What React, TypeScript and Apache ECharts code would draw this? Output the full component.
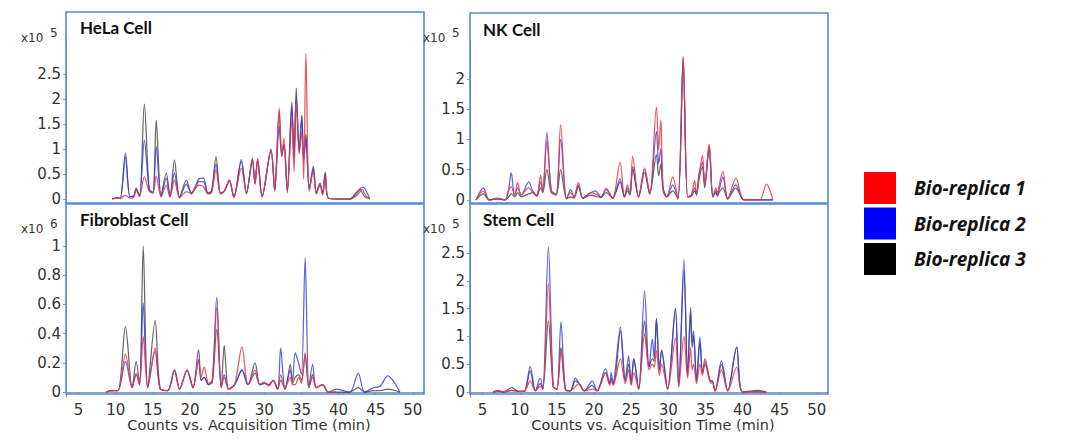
import React, { useEffect, useRef } from "react";
import * as echarts from "echarts";

const replicaNames = ["Bio-replica 1", "Bio-replica 2", "Bio-replica 3"];
const legendColors = ["#ff0000", "#0000ff", "#000000"];
const lineColors = ["rgba(232,58,72,0.85)", "rgba(58,58,222,0.8)", "rgba(45,45,45,0.72)"];
const panelTitles = ["HeLa Cell", "NK Cell", "Fibroblast Cell", "Stem Cell"];
const panelExponents = ["5", "5", "6", "5"];
const xTickValues = [5, 10, 15, 20, 25, 30, 35, 40, 45, 50];
const xAxisTitle = "Counts vs. Acquisition Time (min)";
const yTicksHela = [0, 0.5, 1, 1.5, 2, 2.5];
const yTicksNk = [0, 0.5, 1, 1.5, 2];
const yTicksFibro = [0, 0.2, 0.4, 0.6, 0.8, 1];
const yTicksStem = [0, 0.5, 1, 1.5, 2, 2.5];

// HeLa Cell (x10^5)
const helaTime = [9.5, 10.2, 10.6, 11.3, 11.9, 12.4, 12.75, 13.2, 13.85, 14.5, 15.0, 15.45, 16.1, 16.8, 17.3, 17.9, 18.6, 19.5, 20.2, 20.7, 21.2, 21.8, 22.4, 22.9, 23.5, 24.1, 24.6, 25.3, 25.9, 26.9, 27.6, 28.4, 28.75, 29.1, 29.7, 30.9, 31.4, 32.0, 32.35, 32.65, 33.1, 33.7, 34.0, 34.3, 34.7, 35.05, 35.3, 35.6, 36.05, 36.6, 37.0, 37.5, 37.85, 38.2, 38.7, 41.5, 42.3, 42.9, 43.2, 43.5, 44.2];
const helaRep1 = [0, 0.02, 0.01, 0.08, 0.02, 0.03, 0.18, 0.05, 0.45, 0.15, 0.12, 0.46, 0.04, 0.28, 0.04, 0.38, 0.02, 0.15, 0.1, 0.22, 0.28, 0.25, 0.1, 0.13, 0.58, 0.1, 0.15, 0.38, 0.03, 0.62, 0.1, 0.82, 0.3, 0.8, 0.04, 1.0, 0.15, 1.82, 0.85, 1.22, 0.12, 1.6, 0.55, 2.0, 0.9, 1.35, 0.4, 2.92, 0.15, 0.55, 0.1, 0.28, 0.08, 0.45, 0.01, 0, 0.05, 0.15, 0.2, 0.1, 0];
const helaRep2 = [0, 0.03, 0.01, 0.85, 0.05, 0.05, 0.2, 0.05, 1.18, 0.18, 0.12, 1.05, 0.05, 0.42, 0.05, 0.52, 0.03, 0.3, 0.12, 0.2, 0.35, 0.35, 0.12, 0.15, 0.7, 0.12, 0.15, 0.36, 0.04, 0.75, 0.12, 0.78, 0.3, 0.78, 0.05, 0.98, 0.17, 1.45, 0.85, 1.1, 0.15, 1.85, 0.8, 2.05, 0.95, 1.68, 0.75, 1.2, 0.2, 0.6, 0.12, 0.3, 0.1, 0.5, 0.01, 0, 0.08, 0.2, 0.24, 0.22, 0.01];
const helaRep3 = [0, 0.03, 0.01, 0.92, 0.05, 0.06, 0.22, 0.06, 1.9, 0.2, 0.14, 1.58, 0.06, 0.52, 0.05, 0.78, 0.03, 0.38, 0.12, 0.25, 0.4, 0.42, 0.12, 0.16, 0.85, 0.12, 0.16, 0.38, 0.04, 0.79, 0.12, 0.8, 0.32, 0.8, 0.05, 0.98, 0.17, 1.75, 0.9, 1.1, 0.15, 1.95, 0.85, 2.22, 0.95, 1.65, 0.8, 1.3, 0.2, 0.66, 0.12, 0.32, 0.1, 0.54, 0.01, 0, 0.12, 0.2, 0.12, 0.05, 0];

// NK Cell (x10^5)
const nkTime = [4.1, 5.1, 5.9, 7.0, 8.0, 8.5, 8.85, 9.3, 9.7, 10.2, 11.2, 11.75, 12.3, 12.8, 13.1, 13.65, 14.25, 14.9, 15.5, 16.3, 16.85, 17.3, 17.9, 18.5, 19.55, 20.2, 20.9, 21.65, 22.5, 23.5, 24.1, 24.5, 24.85, 25.2, 26.0, 26.8, 27.5, 28.4, 28.7, 29.0, 29.3, 29.8, 30.6, 31.3, 32.0, 32.6, 33.1, 33.55, 33.8, 34.15, 34.6, 34.9, 35.5, 36.0, 36.4, 36.6, 36.8, 37.35, 38.0, 39.1, 40.2, 42.3, 43.2, 44.1];
const nkRep1 = [0, 0.15, 0, 0.03, 0, 0.15, 0.22, 0.08, 0.29, 0.08, 0.2, 0.13, 0.08, 0.41, 0.15, 0.98, 0.15, 0.1, 1.24, 0.02, 0.12, 0.05, 0.29, 0.03, 0.12, 0.1, 0.05, 0.19, 0.03, 0.62, 0.05, 0.25, 0.1, 0.72, 0.05, 0.53, 0.1, 1.53, 0.83, 1.32, 0.2, 0.05, 0.38, 0.02, 2.38, 0.05, 0.08, 0.32, 0.1, 0.4, 0.74, 0.25, 0.92, 0.05, 0.2, 0.1, 0.22, 0.47, 0.02, 0.36, 0, 0, 0.26, 0];
const nkRep2 = [0, 0.2, 0, 0.02, 0, 0.18, 0.45, 0.08, 0.2, 0.08, 0.3, 0.15, 0.08, 0.3, 0.15, 1.11, 0.15, 0.1, 1.0, 0.02, 0.17, 0.05, 0.25, 0.03, 0.12, 0.15, 0.05, 0.17, 0.03, 0.35, 0.05, 0.2, 0.1, 0.55, 0.05, 0.5, 0.1, 1.13, 0.6, 0.85, 0.2, 0.05, 0.25, 0.02, 2.3, 0.05, 0.08, 0.2, 0.1, 0.44, 0.62, 0.25, 0.85, 0.05, 0.15, 0.08, 0.15, 0.38, 0.02, 0.25, 0, 0, 0, 0];
const nkRep3 = [0, 0.1, 0, 0.02, 0, 0.05, 0.1, 0.05, 0.12, 0.05, 0.1, 0.12, 0.06, 0.2, 0.12, 0.5, 0.12, 0.08, 0.5, 0.02, 0.05, 0.03, 0.22, 0.03, 0.08, 0.06, 0.04, 0.12, 0.03, 0.3, 0.05, 0.15, 0.08, 0.5, 0.05, 0.45, 0.1, 0.75, 0.4, 0.6, 0.15, 0.05, 0.15, 0.02, 2.35, 0.05, 0.06, 0.15, 0.08, 0.35, 0.55, 0.2, 0.9, 0.05, 0.12, 0.06, 0.12, 0.2, 0.02, 0.2, 0, 0, 0, 0];

// Fibroblast Cell (x10^6)
const fibroTime = [8.7, 9.5, 10.3, 11.3, 12.2, 12.75, 13.2, 13.7, 14.3, 15.3, 16.0, 17.0, 17.9, 18.6, 19.6, 20.4, 21.15, 21.5, 21.9, 22.5, 23.0, 23.6, 24.2, 24.6, 25.2, 26.0, 27.0, 27.8, 28.75, 29.4, 30.0, 30.6, 31.2, 31.8, 32.2, 32.8, 33.5, 33.8, 34.15, 34.6, 35.0, 35.5, 36.0, 36.5, 37.0, 37.85, 38.6, 39.7, 41.5, 42.65, 43.5, 44.7, 45.6, 46.6, 48.25];
const fibroRep1 = [0, 0.01, 0.01, 0.26, 0.03, 0.13, 0.05, 0.38, 0.03, 0.3, 0.02, 0.01, 0.15, 0.02, 0.15, 0.03, 0.22, 0.1, 0.17, 0.06, 0.08, 0.58, 0.03, 0.1, 0.02, 0.05, 0.31, 0.05, 0.15, 0.05, 0.07, 0.04, 0.08, 0.02, 0.12, 0.03, 0.1, 0.05, 0.05, 0.1, 0.06, 0.27, 0.03, 0.1, 0.03, 0.05, 0, 0, null, null, null, null, null, null, null];
const fibroRep2 = [0, 0.01, 0.01, 0.21, 0.03, 0.12, 0.05, 0.61, 0.03, 0.28, 0.02, 0.01, 0.15, 0.02, 0.15, 0.03, 0.29, 0.08, 0.1, 0.05, 0.08, 0.65, 0.03, 0.12, 0.02, 0.05, 0.15, 0.05, 0.13, 0.05, 0.06, 0.05, 0.08, 0.02, 0.3, 0.02, 0.15, 0.08, 0.27, 0.2, 0.12, 0.92, 0.03, 0.19, 0.03, 0.05, 0, 0.02, 0, 0.13, 0, 0.03, 0.04, 0.11, 0];
const fibroRep3 = [0, 0.01, 0.01, 0.45, 0.03, 0.21, 0.05, 1.0, 0.03, 0.49, 0.02, 0.01, 0.15, 0.02, 0.15, 0.03, 0.22, 0.08, 0.1, 0.05, 0.07, 0.43, 0.03, 0.32, 0.02, 0.05, 0.15, 0.05, 0.2, 0.05, 0.06, 0.05, 0.08, 0.02, 0.08, 0.02, 0.19, 0.06, 0.1, 0.12, 0.08, 0.25, 0.03, 0.12, 0.03, 0.05, 0, 0, 0, 0.03, 0, 0.01, 0.01, 0.02, 0];

// Stem Cell (x10^5)
const stemTime = [6.4, 7.0, 7.8, 8.95, 9.8, 10.6, 11.4, 12.1, 12.75, 13.1, 13.85, 14.5, 15.0, 15.55, 16.2, 16.8, 17.5, 18.0, 18.7, 19.75, 20.4, 21.55, 22.1, 22.3, 22.6, 22.9, 23.55, 24.2, 24.65, 25.0, 25.35, 26.0, 26.8, 27.4, 27.85, 28.1, 28.4, 28.8, 29.1, 29.9, 30.95, 31.4, 32.1, 32.6, 33.0, 33.2, 33.4, 33.8, 34.25, 34.6, 34.95, 35.7, 35.9, 36.3, 37.15, 38.0, 39.2, 40.0, 42.1, 43.2];
const stemRep1 = [0, 0.02, 0, 0.03, 0.01, 0.01, 0.2, 0.02, 0.1, 0.05, 1.95, 0.1, 0.05, 0.75, 0.03, 0.02, 0.1, 0.15, 0.02, 0.05, 0.02, 0.35, 0.12, 0.2, 0.12, 0.25, 0.6, 0.15, 0.4, 0.12, 0.35, 0.05, 1.05, 0.4, 0.5, 0.45, 0.75, 0.3, 0.5, 0.05, 0.97, 0.1, 1.0, 0.25, 0.8, 0.4, 0.5, 0.15, 0.5, 0.3, 0.55, 0.15, 0.2, 0.02, 0.4, 0.02, 0.45, 0, 0, 0];
const stemRep2 = [0, 0.03, 0, 0.03, 0.01, 0.01, 0.46, 0.02, 0.25, 0.05, 2.61, 0.1, 0.05, 1.26, 0.03, 0.02, 0.25, 0.15, 0.02, 0.2, 0.02, 0.42, 0.15, 0.35, 0.15, 0.45, 1.17, 0.2, 0.65, 0.15, 0.6, 0.05, 1.82, 0.45, 0.95, 0.6, 1.32, 0.4, 0.75, 0.05, 1.5, 0.1, 2.39, 0.3, 1.45, 0.9, 1.1, 0.2, 0.99, 0.35, 0.6, 0.2, 0.2, 0.02, 0.56, 0.02, 0.81, 0, 0.01, 0];
const stemRep3 = [0, 0.01, 0, 0.08, 0.01, 0.01, 0.38, 0.02, 0.15, 0.05, 1.28, 0.1, 0.05, 0.8, 0.03, 0.02, 0.2, 0.15, 0.02, 0.12, 0.02, 0.35, 0.15, 0.25, 0.15, 0.3, 1.1, 0.2, 0.5, 0.15, 0.6, 0.05, 1.28, 0.45, 0.6, 0.55, 1.32, 0.4, 0.75, 0.05, 1.5, 0.1, 2.2, 0.3, 1.52, 0.8, 1.0, 0.2, 0.9, 0.35, 0.5, 0.2, 0.2, 0.02, 0.5, 0.02, 0.81, 0, 0.03, 0];

const panels = [
  { time: helaTime, reps: [helaRep1, helaRep2, helaRep3], yTicks: yTicksHela, yMin: -0.08, yMax: 3.2 },
  { time: nkTime, reps: [nkRep1, nkRep2, nkRep3], yTicks: yTicksNk, yMin: -0.05, yMax: 2.64 },
  { time: fibroTime, reps: [fibroRep1, fibroRep2, fibroRep3], yTicks: yTicksFibro, yMin: -0.034, yMax: 1.096 },
  { time: stemTime, reps: [stemRep1, stemRep2, stemRep3], yTicks: yTicksStem, yMin: -0.09, yMax: 2.88 },
];

const grids = [
  { left: 66, top: 39, width: 358, height: 164 },
  { left: 470, top: 40, width: 358, height: 163 },
  { left: 66, top: 232, width: 358, height: 165 },
  { left: 470, top: 232, width: 358, height: 165 },
];
const boxes = [
  { x: 66, y: 12, w: 358, h: 191 },
  { x: 470, y: 13, w: 358, h: 190 },
  { x: 66, y: 204, w: 358, h: 190 },
  { x: 470, y: 204, w: 358, h: 190 },
];
const titlePos = [
  { x: 80, y: 27 },
  { x: 483, y: 29 },
  { x: 80, y: 219 },
  { x: 483, y: 219 },
];
const expPos = [
  { x: 21, y: 38 },
  { x: 423, y: 38 },
  { x: 21, y: 229 },
  { x: 423, y: 229 },
];

const FONT = "'DejaVu Sans', Arial, sans-serif";
const TITLE_FONT = "Lato, 'Open Sans', sans-serif";
const LEGEND_FONT = "'Open Sans', Lato, sans-serif";

export default function App() {
  const ref = useRef<HTMLDivElement>(null);
  useEffect(() => {
    if (!ref.current) return;
    const chart = echarts.init(ref.current, undefined, { renderer: "svg" });

    const xAxis: any[] = [];
    const yAxis: any[] = [];
    const series: any[] = [];
    panels.forEach((p, i) => {
      const bottom = i >= 2;
      xAxis.push(
        bottom
          ? {
              type: "value",
              gridIndex: i,
              min: 3.3,
              max: 51.5,
              axisLine: { show: true, lineStyle: { color: "#9a9a9a", width: 1 } },
              axisTick: { show: true, length: 3, customValues: xTickValues, lineStyle: { color: "#9a9a9a" } },
              axisLabel: { customValues: xTickValues, fontSize: 15, color: "#333", margin: 5, fontFamily: FONT },
              splitLine: { show: false },
              name: xAxisTitle,
              nameLocation: "middle",
              nameGap: 23,
              nameTextStyle: { fontSize: 14.5, color: "#333", fontFamily: FONT, verticalAlign: "middle", padding: [0, 0, 0, 8] },
            }
          : { type: "value", gridIndex: i, min: 3.3, max: 51.5, show: false }
      );
      yAxis.push({
        type: "value",
        gridIndex: i,
        min: p.yMin,
        max: p.yMax,
        axisLine: { show: true, lineStyle: { color: "#9a9a9a", width: 1 } },
        axisTick: { show: true, length: 3, customValues: p.yTicks, lineStyle: { color: "#9a9a9a" } },
        axisLabel: { customValues: p.yTicks, fontSize: 15, color: "#333", margin: 5, fontFamily: FONT },
        splitLine: { show: false },
      });
      [2, 1, 0].forEach((r) => {
        series.push({
          type: "line",
          name: replicaNames[r],
          xAxisIndex: i,
          yAxisIndex: i,
          data: p.time.map((t, k) => [t, p.reps[r][k]]),
          showSymbol: false,
          symbol: "none",
          smooth: 0.3,
          connectNulls: false,
          lineStyle: { color: lineColors[r], width: 1.25 },
          itemStyle: { color: legendColors[r] },
          z: 2 + (2 - r),
        });
      });
    });

    const graphic: any[] = [];
    boxes.forEach((b) => {
      graphic.push({
        type: "rect",
        shape: { x: b.x, y: b.y, width: b.w, height: b.h },
        style: { fill: "none", stroke: "#5588d4", lineWidth: 1.6 },
        z: 10,
        silent: true,
      });
    });
    panelTitles.forEach((t, i) => {
      graphic.push({
        type: "text",
        x: titlePos[i].x,
        y: titlePos[i].y,
        style: { text: t, font: `bold 17px ${TITLE_FONT}`, fill: "#111", verticalAlign: "middle" },
        z: 11,
      });
      graphic.push({
        type: "text",
        x: expPos[i].x,
        y: expPos[i].y,
        style: { text: "x10", font: `12px ${FONT}`, fill: "#333", verticalAlign: "middle" },
        z: 11,
      });
      graphic.push({
        type: "text",
        x: expPos[i].x + 29,
        y: expPos[i].y - 5,
        style: { text: panelExponents[i], font: `12px ${FONT}`, fill: "#333", verticalAlign: "middle" },
        z: 11,
      });
    });

    chart.setOption({
      animation: false,
      backgroundColor: "#ffffff",
      grid: grids.map((g) => ({ ...g, containLabel: false })),
      xAxis,
      yAxis,
      series,
      legend: {
        orient: "vertical",
        left: 864,
        top: 172,
        padding: 0,
        itemWidth: 32,
        itemHeight: 32,
        itemGap: 3.5,
        icon: "rect",
        selectedMode: false,
        data: replicaNames.map((n, r) => ({ name: n, itemStyle: { color: legendColors[r], opacity: 1 } })),
        textStyle: {
          fontFamily: LEGEND_FONT,
          fontStyle: "italic",
          fontWeight: "bold",
          fontSize: 19,
          color: "#111",
          padding: [0, 0, 0, 13],
        },
      },
      graphic,
    });
    return () => chart.dispose();
  }, []);
  return (
    <div
      ref={ref}
      style={{ position: "absolute", left: 0, top: 0, width: 1078, height: 444, background: "#fff" }}
    />
  );
}
